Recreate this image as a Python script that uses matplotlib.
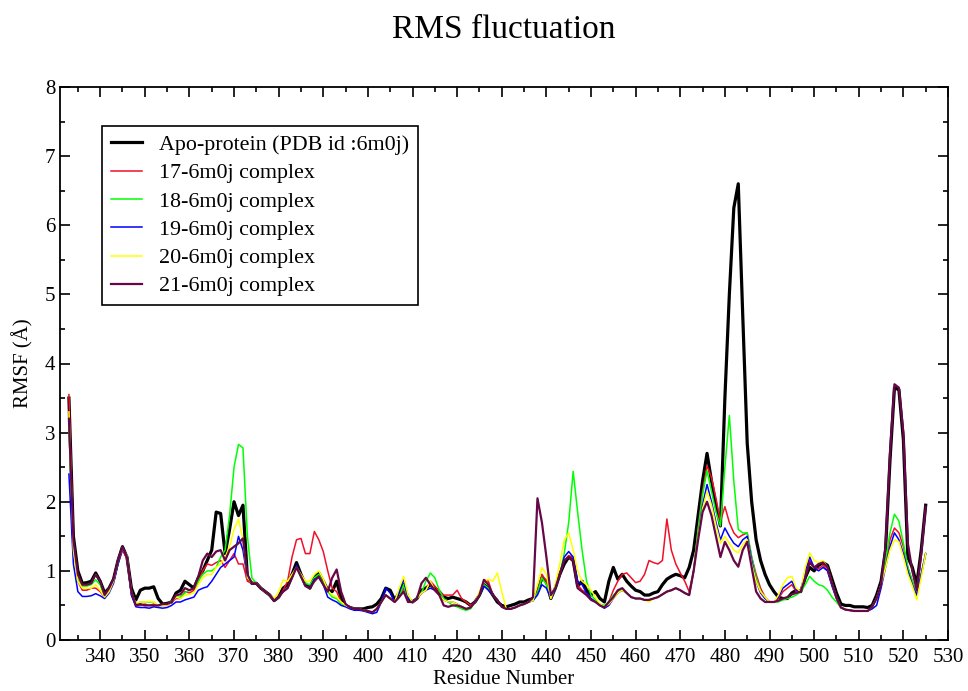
import numpy as np
import matplotlib
matplotlib.use('Agg')
import matplotlib.pyplot as plt
from matplotlib.ticker import MultipleLocator

plt.rcParams['font.family'] = ['Liberation Serif', 'DejaVu Serif']

# residue numbers 333..525
residues = np.arange(333, 526)

apo = [3.50, 1.50, 1.00, 0.82, 0.83, 0.85, 0.97,
       0.85, 0.68, 0.75, 0.88, 1.15, 1.35, 1.20, 0.75, 0.58, 0.72,
       0.75, 0.75, 0.77, 0.60, 0.52, 0.53, 0.55, 0.68, 0.72, 0.85,
       0.80, 0.75, 0.90, 1.00, 1.15, 1.30, 1.85, 1.83, 1.25, 1.60,
       2.00, 1.80, 1.95, 0.90, 0.82, 0.82, 0.75, 0.70, 0.65, 0.57,
       0.62, 0.75, 0.80, 0.95, 1.12, 0.95, 0.80, 0.75, 0.90, 0.97,
       0.85, 0.72, 0.70, 0.85, 0.60, 0.50, 0.47, 0.45, 0.45, 0.45,
       0.47, 0.48, 0.52, 0.60, 0.75, 0.72, 0.58, 0.68, 0.80, 0.60,
       0.55, 0.60, 0.72, 0.75, 0.80, 0.75, 0.70, 0.62, 0.60, 0.62,
       0.60, 0.58, 0.55, 0.50, 0.55, 0.65, 0.80, 0.75, 0.65, 0.55,
       0.50, 0.48, 0.50, 0.52, 0.55, 0.55, 0.58, 0.60, 0.70, 0.90,
       0.85, 0.60, 0.75, 0.95, 1.10, 1.20, 1.15, 0.78, 0.85, 0.72,
       0.65, 0.70, 0.60, 0.55, 0.85, 1.05, 0.88, 0.95, 0.85, 0.78,
       0.72, 0.70, 0.65, 0.65, 0.68, 0.70, 0.80, 0.88, 0.92, 0.95,
       0.93, 0.90, 1.05, 1.30, 1.80, 2.30, 2.70, 2.30, 1.95, 1.65,
       3.50, 5.00, 6.25, 6.60, 4.70, 2.85, 2.00, 1.45, 1.15, 0.95,
       0.80, 0.70, 0.62, 0.60, 0.60, 0.68, 0.72, 0.70, 0.90, 1.05,
       1.00, 1.08, 1.12, 1.08, 0.88, 0.68, 0.52, 0.50, 0.50, 0.48,
       0.48, 0.48, 0.47, 0.50, 0.65, 0.85, 1.30, 2.60, 3.65, 3.62,
       2.90, 1.20, 1.05, 0.80, 1.30, 1.95]

c17 = [3.55, 1.40, 0.85, 0.72, 0.72, 0.75, 0.75,
       0.70, 0.62, 0.72, 0.85, 1.10, 1.30, 1.18, 0.65, 0.50, 0.50,
       0.52, 0.50, 0.52, 0.50, 0.50, 0.50, 0.55, 0.60, 0.60, 0.70,
       0.68, 0.72, 0.85, 1.00, 1.10, 1.08, 1.12, 1.15, 1.05, 1.15,
       1.25, 1.10, 1.10, 0.85, 0.82, 0.82, 0.75, 0.70, 0.65, 0.57,
       0.62, 0.72, 0.85, 1.20, 1.45, 1.47, 1.25, 1.25, 1.57, 1.45,
       1.28, 1.00, 0.75, 0.70, 0.55, 0.50, 0.47, 0.45, 0.45, 0.43,
       0.42, 0.40, 0.45, 0.55, 0.65, 0.60, 0.55, 0.62, 0.75, 0.55,
       0.55, 0.60, 0.68, 0.72, 0.85, 0.78, 0.70, 0.65, 0.65, 0.65,
       0.72, 0.60, 0.55, 0.50, 0.55, 0.65, 0.87, 0.85, 0.65, 0.58,
       0.48, 0.45, 0.45, 0.47, 0.50, 0.52, 0.55, 0.57, 0.70, 0.95,
       0.85, 0.60, 0.75, 0.95, 1.15, 1.22, 1.20, 0.80, 0.72, 0.68,
       0.60, 0.55, 0.50, 0.48, 0.55, 0.72, 0.85, 0.95, 0.97, 0.90,
       0.83, 0.85, 0.95, 1.15, 1.12, 1.10, 1.15, 1.75, 1.30, 1.10,
       0.97, 0.85, 0.70, 1.00, 1.60, 2.15, 2.52, 2.35, 2.05, 1.72,
       1.93, 1.70, 1.55, 1.48, 1.52, 1.55, 1.20, 0.95, 0.75, 0.62,
       0.55, 0.55, 0.60, 0.70, 0.75, 0.80, 0.70, 0.70, 0.95, 1.15,
       1.05, 1.03, 1.08, 1.00, 0.80, 0.60, 0.47, 0.44, 0.43, 0.42,
       0.42, 0.42, 0.42, 0.48, 0.60, 0.80, 1.10, 1.45, 1.62, 1.55,
       1.35, 1.05, 0.85, 0.65, 0.95, 1.25]

c18 = [3.10, 1.30, 0.90, 0.78, 0.78, 0.80, 0.87,
       0.80, 0.64, 0.72, 0.85, 1.10, 1.33, 1.20, 0.68, 0.52, 0.55,
       0.55, 0.55, 0.55, 0.50, 0.50, 0.52, 0.56, 0.62, 0.62, 0.68,
       0.72, 0.75, 0.85, 0.95, 1.00, 1.00, 1.05, 1.20, 1.30, 1.80,
       2.50, 2.83, 2.78, 1.50, 0.90, 0.82, 0.75, 0.70, 0.65, 0.57,
       0.62, 0.70, 0.75, 0.90, 1.05, 0.90, 0.82, 0.80, 0.90, 0.95,
       0.82, 0.70, 0.62, 0.60, 0.52, 0.50, 0.47, 0.45, 0.45, 0.43,
       0.42, 0.40, 0.45, 0.55, 0.65, 0.60, 0.55, 0.62, 0.80, 0.55,
       0.55, 0.60, 0.68, 0.85, 0.97, 0.90, 0.72, 0.60, 0.55, 0.50,
       0.48, 0.45, 0.43, 0.45, 0.55, 0.65, 0.80, 0.75, 0.65, 0.58,
       0.48, 0.45, 0.45, 0.47, 0.50, 0.52, 0.55, 0.57, 0.68, 0.90,
       0.80, 0.60, 0.75, 0.95, 1.25, 1.70, 2.44, 1.85, 1.30, 0.85,
       0.65, 0.58, 0.52, 0.50, 0.55, 0.65, 0.70, 0.72, 0.68, 0.62,
       0.60, 0.60, 0.58, 0.58, 0.60, 0.62, 0.66, 0.70, 0.72, 0.75,
       0.72, 0.68, 0.65, 1.00, 1.60, 2.10, 2.45, 2.15, 1.85, 1.65,
       2.50, 3.25, 2.30, 1.60, 1.55, 1.55, 1.20, 0.90, 0.70, 0.60,
       0.55, 0.55, 0.55, 0.58, 0.60, 0.62, 0.65, 0.70, 0.80, 0.92,
       0.85, 0.80, 0.78, 0.72, 0.62, 0.55, 0.47, 0.44, 0.43, 0.42,
       0.42, 0.42, 0.42, 0.48, 0.60, 0.80, 1.15, 1.55, 1.82, 1.72,
       1.40, 1.05, 0.85, 0.65, 0.95, 1.25]

c19 = [2.40, 1.10, 0.70, 0.63, 0.63, 0.64, 0.67,
       0.64, 0.60, 0.68, 0.82, 1.10, 1.32, 1.20, 0.65, 0.48, 0.47,
       0.47, 0.46, 0.48, 0.47, 0.46, 0.47, 0.50, 0.55, 0.55, 0.58,
       0.60, 0.62, 0.72, 0.75, 0.77, 0.85, 0.95, 1.05, 1.10, 1.15,
       1.20, 1.50, 1.30, 0.90, 0.82, 0.82, 0.75, 0.70, 0.65, 0.57,
       0.62, 0.70, 0.75, 0.90, 1.08, 0.92, 0.78, 0.75, 0.88, 0.90,
       0.80, 0.62, 0.58, 0.55, 0.50, 0.48, 0.45, 0.43, 0.43, 0.42,
       0.40, 0.38, 0.40, 0.55, 0.75, 0.68, 0.55, 0.70, 0.88, 0.60,
       0.55, 0.60, 0.68, 0.72, 0.75, 0.72, 0.65, 0.58, 0.55, 0.55,
       0.52, 0.48, 0.45, 0.47, 0.55, 0.65, 0.78, 0.72, 0.65, 0.58,
       0.48, 0.45, 0.45, 0.47, 0.50, 0.52, 0.55, 0.57, 0.65, 0.80,
       0.75, 0.60, 0.75, 0.95, 1.20, 1.28, 1.20, 0.85, 0.80, 0.68,
       0.60, 0.55, 0.50, 0.46, 0.50, 0.60, 0.68, 0.72, 0.68, 0.62,
       0.60, 0.60, 0.58, 0.58, 0.60, 0.62, 0.66, 0.70, 0.72, 0.75,
       0.72, 0.68, 0.65, 1.00, 1.50, 1.95, 2.25, 2.00, 1.70, 1.45,
       1.62, 1.50, 1.40, 1.35, 1.45, 1.50, 1.15, 0.85, 0.68, 0.60,
       0.55, 0.55, 0.62, 0.75, 0.80, 0.85, 0.72, 0.70, 1.00, 1.20,
       1.05, 1.00, 1.05, 1.00, 0.78, 0.60, 0.47, 0.44, 0.43, 0.42,
       0.42, 0.42, 0.42, 0.45, 0.50, 0.75, 1.05, 1.35, 1.55, 1.45,
       1.25, 1.00, 0.80, 0.65, 0.95, 1.25]

c20 = [3.30, 1.30, 0.85, 0.75, 0.75, 0.75, 0.80,
       0.72, 0.62, 0.70, 0.85, 1.15, 1.33, 1.22, 0.70, 0.52, 0.55,
       0.55, 0.56, 0.55, 0.50, 0.50, 0.50, 0.55, 0.62, 0.60, 0.65,
       0.66, 0.68, 0.80, 0.90, 0.95, 0.95, 1.05, 1.10, 1.20, 1.35,
       1.60, 1.75, 1.45, 0.90, 0.82, 0.82, 0.75, 0.70, 0.65, 0.60,
       0.70, 0.87, 0.85, 0.95, 1.05, 0.95, 0.85, 0.85, 0.95, 1.00,
       0.88, 0.72, 0.65, 0.62, 0.55, 0.50, 0.47, 0.45, 0.45, 0.43,
       0.42, 0.40, 0.45, 0.55, 0.65, 0.60, 0.55, 0.75, 0.92, 0.65,
       0.55, 0.60, 0.68, 0.72, 0.85, 0.72, 0.65, 0.58, 0.55, 0.55,
       0.52, 0.48, 0.45, 0.47, 0.55, 0.70, 0.85, 0.88, 0.85, 0.97,
       0.70, 0.45, 0.45, 0.47, 0.50, 0.52, 0.55, 0.57, 0.80, 1.05,
       0.95, 0.60, 0.80, 1.10, 1.45, 1.55, 1.30, 1.00, 0.85, 0.80,
       0.72, 0.62, 0.52, 0.48, 0.52, 0.60, 0.68, 0.72, 0.68, 0.62,
       0.60, 0.60, 0.58, 0.55, 0.60, 0.62, 0.66, 0.70, 0.72, 0.75,
       0.72, 0.68, 0.65, 1.00, 1.50, 1.90, 2.15, 1.95, 1.65, 1.40,
       1.50, 1.40, 1.30, 1.26, 1.38, 1.45, 1.10, 0.85, 0.70, 0.62,
       0.55, 0.55, 0.65, 0.80, 0.90, 0.92, 0.75, 0.70, 1.05, 1.26,
       1.15, 1.12, 1.15, 1.05, 0.82, 0.62, 0.47, 0.44, 0.43, 0.42,
       0.42, 0.42, 0.42, 0.48, 0.60, 0.80, 1.05, 1.30, 1.45, 1.42,
       1.20, 0.95, 0.78, 0.58, 0.90, 1.25]

c21 = [3.20, 1.45, 0.95, 0.80, 0.80, 0.82, 0.95,
       0.85, 0.65, 0.75, 0.88, 1.15, 1.35, 1.20, 0.70, 0.50, 0.52,
       0.50, 0.50, 0.50, 0.50, 0.52, 0.52, 0.55, 0.65, 0.66, 0.75,
       0.72, 0.75, 0.92, 1.15, 1.25, 1.20, 1.28, 1.30, 1.15, 1.30,
       1.35, 1.40, 1.47, 0.95, 0.82, 0.82, 0.75, 0.70, 0.65, 0.57,
       0.62, 0.70, 0.75, 0.90, 1.05, 0.92, 0.78, 0.75, 0.85, 0.92,
       0.80, 0.70, 0.90, 1.02, 0.70, 0.52, 0.47, 0.45, 0.45, 0.43,
       0.42, 0.40, 0.45, 0.55, 0.65, 0.60, 0.55, 0.62, 0.70, 0.55,
       0.55, 0.60, 0.82, 0.90, 0.80, 0.72, 0.65, 0.50, 0.48, 0.50,
       0.50, 0.48, 0.45, 0.47, 0.55, 0.65, 0.87, 0.80, 0.65, 0.58,
       0.48, 0.45, 0.45, 0.47, 0.50, 0.52, 0.55, 0.62, 2.05, 1.70,
       1.20, 0.65, 0.75, 0.95, 1.15, 1.20, 1.15, 0.75, 0.70, 0.65,
       0.58, 0.55, 0.50, 0.47, 0.55, 0.62, 0.72, 0.75, 0.68, 0.62,
       0.60, 0.60, 0.58, 0.58, 0.60, 0.62, 0.66, 0.70, 0.72, 0.75,
       0.72, 0.68, 0.65, 1.00, 1.45, 1.85, 2.00, 1.80, 1.50, 1.20,
       1.42, 1.30, 1.15, 1.06, 1.30, 1.42, 1.05, 0.70, 0.60, 0.55,
       0.55, 0.55, 0.57, 0.60, 0.62, 0.66, 0.68, 0.70, 0.90, 1.12,
       1.05, 1.10, 1.12, 1.05, 0.82, 0.62, 0.47, 0.44, 0.43, 0.42,
       0.42, 0.42, 0.42, 0.48, 0.60, 0.80, 1.35, 2.70, 3.70, 3.65,
       3.00, 1.40, 1.00, 0.72, 1.25, 1.93]

labels = ['Apo-protein (PDB id :6m0j)', '17-6m0j complex', '18-6m0j complex',
          '19-6m0j complex', '20-6m0j complex', '21-6m0j complex']
colors = ['black', '#f0102a', '#00ff00', '#0000ff', '#ffff00', '#670748']
widths = [2.3, 1.1, 1.1, 1.1, 1.1, 1.6]

fig = plt.figure(figsize=(9.68, 6.91), dpi=100)
ax = fig.add_axes([60 / 968, 1 - 640 / 691, 888 / 968, 553 / 691])

for series, lab, col, lw in zip([apo, c17, c18, c19, c20, c21], labels, colors, widths):
    ax.plot(residues, series, color=col, lw=lw, label=lab)

ax.set_xlim(331, 530)
ax.set_ylim(0, 8)
ax.xaxis.set_minor_locator(MultipleLocator(5))
ax.yaxis.set_major_locator(MultipleLocator(1))
ax.yaxis.set_minor_locator(MultipleLocator(0.5))
ax.set_xticks(np.arange(340, 531, 10))
ax.tick_params(which='both', direction='in', top=True, right=True, labelsize=15, width=1.2)
ax.tick_params(axis='x', which='major', pad=6)
ax.tick_params(which='major', length=7)
ax.tick_params(which='minor', length=3.5)
for s in ax.spines.values():
    s.set_linewidth(1.3)

ax.set_xlabel('Residue Number', fontsize=15, labelpad=2)
ax.set_ylabel('RMSF (Å)', fontsize=15, labelpad=8)
fig.text(504 / 968, 1 - 30 / 691, 'RMS fluctuation', fontsize=24, ha='center', va='center')

leg = ax.legend(loc='upper left', bbox_to_anchor=(42 / 888, 1 - 39 / 553), fontsize=15.8,
                frameon=True, fancybox=False, edgecolor='black', framealpha=1,
                handlelength=1.4, handletextpad=0.8, labelspacing=0.36, borderpad=0.4,
                borderaxespad=0)
leg.get_frame().set_linewidth(1.2)

fig.savefig('out.png', dpi=100)
